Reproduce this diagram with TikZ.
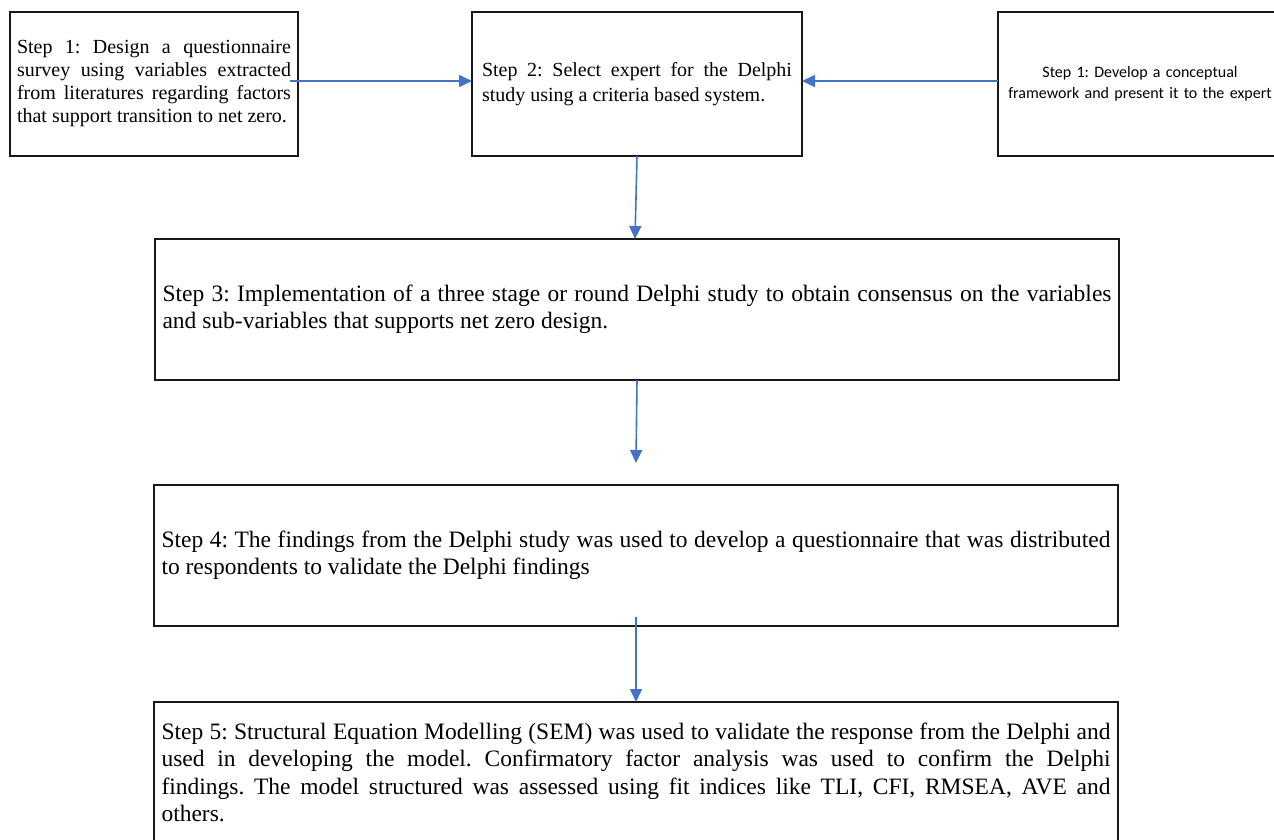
\documentclass[tikz,border=0pt]{standalone}
\usepackage{fontspec}
\setmainfont{Liberation Serif}
\newfontfamily\calfont{Carlito}
\usetikzlibrary{arrows.meta}
\definecolor{arrowblue}{RGB}{68,114,196}
\frenchspacing
\hyphenpenalty=10000
\exhyphenpenalty=10000
\begin{document}
\begin{tikzpicture}[x=1pt,y=-1pt,
  box/.style={draw=black!90, line width=1.5pt, rectangle, inner sep=0pt, outer sep=0pt},
  smallserif/.style={font=\fontsize{20}{23}\selectfont, align=justify},
  bigserif/.style={font=\fontsize{23.5}{27.5}\selectfont, align=justify},
  conn/.style={draw=arrowblue, line width=1.6pt, -{Triangle[width=12pt,length=13pt]}}
]
\useasboundingbox (0,0) rectangle (1274,839);
\clip (0,0) rectangle (1274,839);
\fill[white] (0,0) rectangle (1274,839);

\node[box, smallserif, minimum width=288, minimum height=144, text width=274] (b1) at (154,84)
  {Step 1: Design a questionnaire\linebreak survey using variables extracted\linebreak from literatures regarding factors\linebreak that support transition to net zero.};
\node[box, font=\fontsize{20}{25}\selectfont, align=justify, minimum width=330, minimum height=144, text width=310] (b2) at (637,84)
  {Step 2: Select expert for the Delphi\linebreak study using a criteria based system.};
\node[box, font=\calfont\fontsize{16}{21}\selectfont, align=center, minimum width=284, minimum height=144, text width=276] (b0) at (1140,84)
  {Step 1: Develop a conceptual\\framework and present it to the expert};
\node[box, bigserif, minimum width=964, minimum height=141, text width=949] (b3) at (637,309.5)
  {Step 3: Implementation of a three stage or round Delphi study to obtain consensus on the variables\linebreak and sub-variables that supports net zero design.};
\node[box, bigserif, minimum width=964, minimum height=141, text width=949] (b4) at (636,555.5)
  {Step 4: The findings from the Delphi study was used to develop a questionnaire that was distributed\linebreak to respondents to validate the Delphi findings};
\node[box, bigserif, minimum width=964, minimum height=141, text width=949] (b5) at (636,772.5)
  {Step 5: Structural Equation Modelling (SEM) was used to validate the response from the Delphi and\linebreak used in developing the model. Confirmatory factor analysis was used to confirm the Delphi\linebreak findings. The model structured was assessed using fit indices like TLI, CFI, RMSEA, AVE and\linebreak others.};

\coordinate (s1) at (290,81);
\coordinate (e1) at (472,81);
\coordinate (s0) at (998,81);
\coordinate (e0) at (802,81);
\coordinate (s2) at (637,156);
\coordinate (e2) at (635,239);
\coordinate (s3) at (637,380);
\coordinate (e3) at (636,463);
\coordinate (s4) at (636,617);
\coordinate (e4) at (636,702);

\draw[conn] (s1) -- (e1);
\draw[conn] (s0) -- (e0);
\draw[conn] (s2) -- (e2);
\draw[conn] (s3) -- (e3);
\draw[conn] (s4) -- (e4);
\end{tikzpicture}
\end{document}
